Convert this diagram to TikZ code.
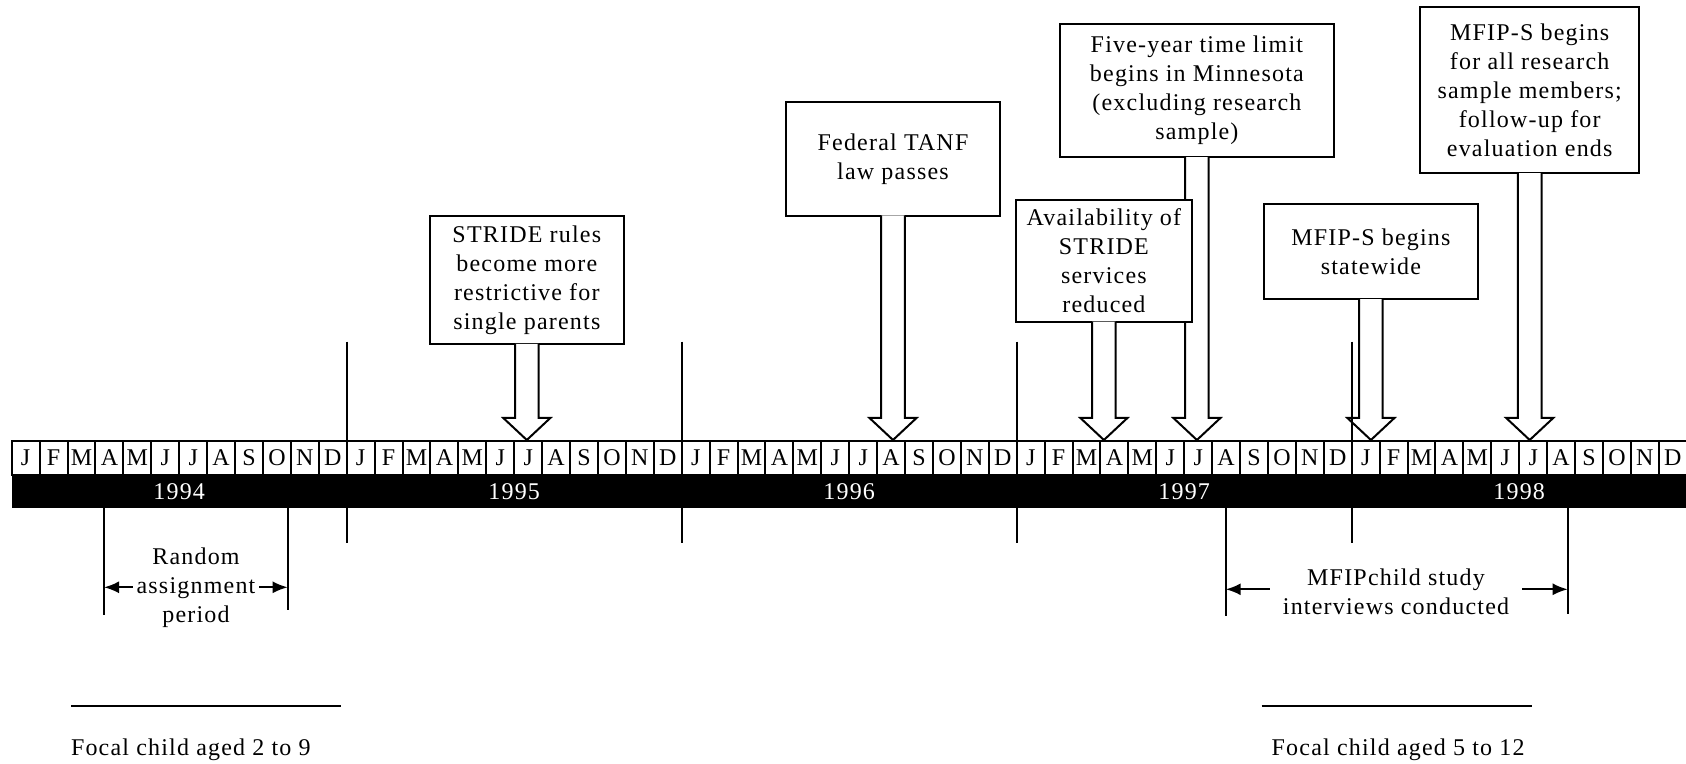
\documentclass[tikz,border=0pt]{standalone}
\usepackage{fontspec}
\setmainfont{Liberation Serif}[LetterSpace=5]
\usetikzlibrary{arrows.meta,calc}

\tikzset{
  month/.style={draw, fill=white, minimum width=13.96pt, minimum height=17pt, inner sep=0pt},
  yearlbl/.style={text=white},
  event/.style={draw, fill=white, align=center, inner sep=0pt},
  blockarrow/.style={draw, fill=white, to path={let \p1=(\tikztostart), \p2=(\tikztotarget) in
    (\x1-5.9pt,\y1+0.6pt) -- (\x1-5.9pt,\y2+11pt) -- (\x1-11.75pt,\y2+11pt) -- (\x1,\y2)
    -- (\x1+11.75pt,\y2+11pt) -- (\x1+5.9pt,\y2+11pt) -- (\x1+5.9pt,\y1+0.6pt)}},
  span/.style={-{Latex[length=7.5pt,width=6pt]}},
}

\begin{document}
\begin{tikzpicture}[x=0.5pt,y=-0.5pt,line width=1pt,font=\fontsize{12}{14.5}\selectfont]
  \useasboundingbox (0,0) rectangle (1686,764);

  % months and years
  \fill (11.7,475) rectangle (1686.7,508.3);
  \foreach \yr [count=\k from 0] in {1994,1995,1996,1997,1998} {
    \foreach \m [count=\i from 0] in {J,F,M,A,M,J,J,A,S,O,N,D}
      \node[month] (m\k-\i) at ({11.7+335*\k+27.92*(\i+0.5)},458) {\m};
    \node[yearlbl] (y\k) at ({11.7+335*\k+167.5},491.5) {\yr};
  }

  % events
  \node[event, minimum width=96.75pt, minimum height=64pt] (stride) at (526.8,280)
    {STRIDE rules\\become more\\restrictive for\\single parents};
  \draw[blockarrow] (stride.south) to (m1-6.north);

  \node[event, minimum width=107pt, minimum height=56.7pt] (tanf) at (893,159)
    {Federal TANF\\law passes};
  \draw[blockarrow] (tanf.south) to (m2-7.north);

  \node[event, minimum width=136.85pt, minimum height=66.65pt] (limit) at (1196.9,90.7)
    {Five-year time limit\\begins in Minnesota\\(excluding research\\sample)};
  \draw[blockarrow] (limit.south) to (m3-6.north);

  \node[event, minimum width=87.85pt, minimum height=60.85pt] (avail) at (1103.9,260.9)
    {Availability of\\STRIDE\\services\\reduced};
  \draw[blockarrow] (avail.south) to (m3-3.north);

  \node[event, minimum width=106.85pt, minimum height=47.65pt] (statewide) at (1370.9,251.7)
    {MFIP-S begins\\statewide};
  \draw[blockarrow] (statewide.south) to (m4-0.north);

  \node[event, minimum width=109.65pt, minimum height=83pt] (members) at (1529.7,90.3)
    {MFIP-S begins\\for all research\\sample members;\\follow-up for\\evaluation ends};
  \draw[blockarrow] (members.south) to (m4-6.north);

  % year marks
  \foreach \k in {1,2,3,4}
    \draw ({11.7+335*\k},341.7) -- ({11.7+335*\k},543);

  % random assignment
  \node[align=center, inner xsep=1.5pt] (rand) at (196,587.3) {Random\\assignment\\period};
  \coordinate (raL) at (104,587.3);
  \coordinate (raR) at (287.7,587.3);
  \draw (104,508.3) -- (104,615);
  \draw (287.7,508.3) -- (287.7,610);
  \draw[span] (rand.west) -- (raL);
  \draw[span] (rand.east) -- (raR);

  % interviews
  \node[align=center, inner xsep=6pt] (study) at (1396,592) {MFIPchild study\\interviews conducted};
  \coordinate (stL) at (1225.7,589.3);
  \coordinate (stR) at (1567.7,589.3);
  \draw (1225.7,508.3) -- (1225.7,616);
  \draw (1567.7,508.3) -- (1567.7,614);
  \draw[span] (study.west |- stL) -- (stL);
  \draw[span] (study.east |- stR) -- (stR);

  % focal child ages
  \draw (71,706) -- (341,706);
  \node[anchor=west, inner sep=0pt] (ageA) at (70,750) {Focal child aged 2 to 9};
  \draw (1261.7,706) -- (1532,706);
  \node[anchor=west, inner sep=0pt] (ageB) at (1270.7,750) {Focal child aged 5 to 12};
\end{tikzpicture}
\end{document}
